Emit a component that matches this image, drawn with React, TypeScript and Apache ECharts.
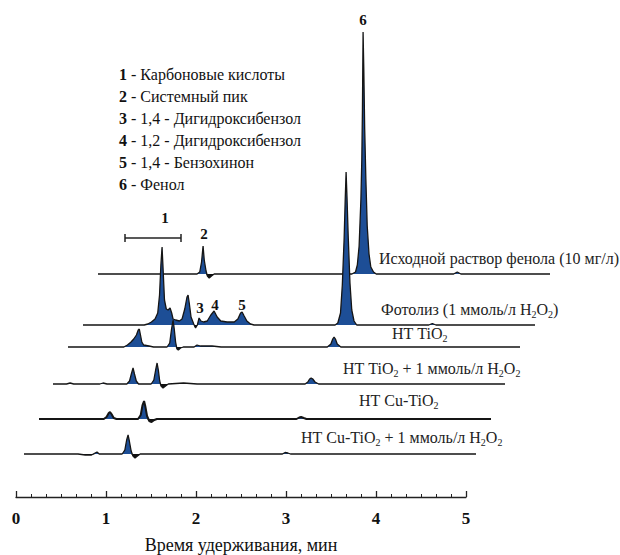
import React, { useEffect, useRef } from "react";
import * as echarts from "echarts";

// ---- data (time in min from each trace start, intensity in a.u.) ----
const traceNames = [
  "Исходной раствор фенола (10 мг/л)",
  "Фотолиз (1 ммоль/л H2O2)",
  "НТ TiO2",
  "НТ TiO2 + 1 ммоль/л H2O2",
  "НТ Cu-TiO2",
  "НТ Cu-TiO2 + 1 ммоль/л H2O2",
];

const traceInitial: number[][] = [
  [0, 0], [1.1, 0], [1.13, 2], [1.15, 12], [1.167, 28], [1.18, 14], [1.2, 3], [1.215, -2], [1.235, -4], [1.26, -2], [1.29, 0],
  [2.82, 0], [2.86, 2], [2.88, 9], [2.9, 28], [2.92, 75], [2.93, 115], [2.937, 165], [2.944, 242], [2.952, 205], [2.962, 145],
  [2.975, 95], [2.99, 48], [3.01, 20], [3.03, 7], [3.06, 2], [3.09, 0],
  [3.95, 0], [3.99, 2], [4.03, 0], [5.02, 0],
];
const tracePhotolysis: number[][] = [
  [0, 0], [0.68, 0], [0.72, 1], [0.76, 3], [0.8, 6], [0.83, 12], [0.85, 30], [0.865, 60], [0.878, 78], [0.89, 55], [0.905, 25],
  [0.925, 16], [0.945, 15], [0.967, 17], [0.985, 12], [1.0, 6], [1.03, 5], [1.07, 4], [1.1, 6], [1.13, 16], [1.155, 28],
  [1.167, 30], [1.18, 22], [1.2, 8], [1.23, 1], [1.25, -3], [1.27, 0], [1.289, 7], [1.31, 4], [1.34, 3], [1.38, 4], [1.42, 10],
  [1.456, 14], [1.49, 8], [1.53, 4], [1.6, 3], [1.68, 3], [1.72, 6], [1.75, 12], [1.767, 13], [1.79, 9], [1.82, 4], [1.86, 1],
  [1.9, 0], [2.8, 0], [2.83, 2], [2.86, 12], [2.88, 40], [2.9, 86], [2.912, 125], [2.922, 153], [2.932, 128], [2.945, 90],
  [2.965, 42], [2.985, 15], [3.01, 4], [3.04, 0], [3.84, 0], [3.88, 1.5], [3.92, 0], [5.02, 0],
];
const traceTiO2: number[][] = [
  [0, 0], [0.62, 0], [0.66, 2], [0.7, 5], [0.73, 8], [0.76, 12], [0.78, 17], [0.792, 18], [0.805, 12], [0.82, 5], [0.84, 2],
  [0.9, 1], [0.95, 0], [1.1, 0], [1.13, 4], [1.15, 18], [1.167, 27], [1.18, 18], [1.195, 5], [1.21, -2], [1.225, -3],
  [1.25, -1], [1.28, 0], [1.4, 0], [1.433, 2], [1.47, 1], [1.6, 1], [1.7, 0],
  [2.88, 0], [2.92, 3], [2.94, 8], [2.955, 10], [2.97, 8], [2.99, 3], [3.03, 0], [5.02, 0],
];
const traceTiO2H2O2: number[][] = [
  [0, 0], [0.15, 0], [0.19, 1], [0.23, 0], [0.52, 0], [0.556, 1], [0.6, 0], [0.82, 0], [0.85, 3], [0.87, 10], [0.889, 16],
  [0.905, 10], [0.925, 3], [0.95, 0], [1.09, 0], [1.12, 4], [1.14, 14], [1.156, 21], [1.17, 14], [1.185, 3], [1.2, -2],
  [1.222, -4], [1.25, -2], [1.28, 0], [1.45, 1], [1.6, 0], [2.8, 0], [2.83, 2], [2.85, 5], [2.867, 6], [2.885, 5],
  [2.91, 2], [2.95, 0], [5.02, 0],
];
const traceCuTiO2: number[][] = [
  [0, 0], [0.72, 0], [0.75, 2], [0.775, 6], [0.789, 7], [0.805, 5], [0.83, 1], [0.86, 0], [1.1, 0], [1.13, 4], [1.15, 14],
  [1.167, 18], [1.18, 13], [1.2, 3], [1.225, -2], [1.25, -3], [1.28, -1], [1.31, 0], [2.86, 0], [2.89, 1.5], [2.911, 2],
  [2.94, 1], [2.97, 0], [5.02, 0],
];
const traceCuTiO2H2O2: number[][] = [
  [0, 0], [0.6, 0], [0.68, -1], [0.75, -1], [0.79, 1], [0.811, 2], [0.835, 0], [1.09, 0], [1.12, 4], [1.14, 14],
  [1.156, 19], [1.17, 13], [1.19, 3], [1.21, -2], [1.233, -4], [1.26, -2], [1.29, 0], [2.87, 0], [2.9, 1.5], [2.93, 1],
  [2.96, 0], [5.02, 0],
];
const traces = [traceInitial, tracePhotolysis, traceTiO2, traceTiO2H2O2, traceCuTiO2, traceCuTiO2H2O2];

const legendNums = ["1", "2", "3", "4", "5", "6"];
const legendTexts = [
  "Карбоновые кислоты",
  "Системный пик",
  "1,4 - Дигидроксибензол",
  "1,2 - Дигидроксибензол",
  "1,4 - Бензохинон",
  "Фенол",
];
const axisTicks = [0, 1, 2, 3, 4, 5];
const axisTitle = "Время удерживания, мин";

// ---- layout (pixels) ----
const traceLeft = [98, 83, 68, 53, 39, 24];
const traceBase = [274, 325, 347, 384, 419, 454];
const traceLineWidth = [1.3, 1.3, 1.3, 1.3, 2, 1.3];
const traceLabelPos = [
  [379, 258], [381, 309], [392, 333], [343, 368], [359, 400], [301, 437],
];
const traceLabelRich = [
  "Исходной раствор фенола (10 мг/л)",
  "Фотолиз (1 ммоль/л H{s|2}O{s|2})",
  "НТ TiO{s|2}",
  "НТ TiO{s|2} + 1 ммоль/л H{s|2}O{s|2}",
  "НТ Cu-TiO{s|2}",
  "НТ Cu-TiO{s|2} + 1 ммоль/л H{s|2}O{s|2}",
];
const FONT = "'Liberation Serif', 'DejaVu Serif', serif";
const FILL = "#1d4e96";

export default function App() {
  const ref = useRef<HTMLDivElement>(null);
  useEffect(() => {
    if (!ref.current) return;
    const chart = echarts.init(ref.current, undefined, { renderer: "svg" });
    const grids: any[] = [];
    const xAxes: any[] = [];
    const yAxes: any[] = [];
    const series: any[] = [];
    traces.forEach((tr, i) => {
      grids.push({ left: traceLeft[i], width: 452, top: traceBase[i] - 260, height: 270 });
      xAxes.push({ gridIndex: i, type: "value", min: 0, max: 5.02, show: false });
      yAxes.push({ gridIndex: i, type: "value", min: -10, max: 260, show: false });
      series.push({
        type: "line",
        name: traceNames[i],
        xAxisIndex: i,
        yAxisIndex: i,
        data: tr,
        showSymbol: false,
        silent: true,
        lineStyle: { color: "#151515", width: traceLineWidth[i] },
        areaStyle: { color: FILL, opacity: 1 },
        z: 2 + i,
      });
      series.push({
        type: "line",
        xAxisIndex: i,
        yAxisIndex: i,
        data: tr.map((p) => [p[0], Math.min(p[1], 0)]),
        showSymbol: false,
        silent: true,
        lineStyle: { width: 0 },
        areaStyle: { color: "#111", opacity: 1 },
        z: 2 + i,
      });
    });
    // visible time axis
    grids.push({ left: 16, width: 450, top: 440, height: 57 });
    xAxes.push({
      gridIndex: 6,
      type: "value",
      min: 0,
      max: 5,
      interval: 1,
      axisLine: { lineStyle: { color: "#222", width: 1.3 } },
      axisTick: { inside: true, length: 6, lineStyle: { color: "#222", width: 1.3 } },
      minorTick: { show: true, splitNumber: 6, length: 3, lineStyle: { color: "#222", width: 1 } },
      splitLine: { show: false },
      axisLabel: {
        margin: 13,
        fontFamily: FONT,
        fontWeight: "bold",
        fontSize: 17,
        color: "#111",
        formatter: (v: number) => (axisTicks.includes(v) ? String(v) : ""),
      },
      name: axisTitle,
      nameLocation: "middle",
      nameGap: 39,
      nameTextStyle: { fontFamily: FONT, fontSize: 18, color: "#111" },
    });
    yAxes.push({ gridIndex: 6, type: "value", min: 0, max: 1, show: false });
    series.push({ type: "line", xAxisIndex: 6, yAxisIndex: 6, data: [] });

    const graphic: any[] = [];
    legendTexts.forEach((t, i) => {
      graphic.push({
        type: "text",
        x: 119,
        y: 74 + i * 22,
        style: {
          text: `{b|${legendNums[i]}} - ${t}`,
          fontFamily: FONT,
          fontSize: 16,
          fill: "#111",
          textVerticalAlign: "middle",
          rich: { b: { fontFamily: FONT, fontSize: 16, fontWeight: "bold", fill: "#111" } },
        },
      });
    });
    traceLabelRich.forEach((t, i) => {
      graphic.push({
        type: "text",
        x: traceLabelPos[i][0],
        y: traceLabelPos[i][1],
        style: {
          text: t,
          fontFamily: FONT,
          fontSize: 16,
          fill: "#222",
          textVerticalAlign: "middle",
          rich: { s: { fontFamily: FONT, fontSize: 10, fill: "#222", padding: [10, 0, 0, 0] } },
        },
      });
    });
    const peakLabels: [string, number, number][] = [
      ["1", 165, 218], ["2", 204, 234], ["3", 200, 308], ["4", 215, 305], ["5", 242, 305], ["6", 363, 20],
    ];
    peakLabels.forEach(([t, x, y]) => {
      graphic.push({
        type: "text",
        x,
        y,
        style: {
          text: t,
          fontFamily: FONT,
          fontSize: 15,
          fontWeight: "bold",
          fill: "#111",
          textAlign: "center",
          textVerticalAlign: "middle",
        },
      });
    });
    graphic.push({ type: "line", shape: { x1: 125, y1: 238, x2: 181, y2: 238 }, style: { stroke: "#222", lineWidth: 1.5 } });
    graphic.push({ type: "line", shape: { x1: 125, y1: 234, x2: 125, y2: 242 }, style: { stroke: "#222", lineWidth: 1.5 } });
    graphic.push({ type: "line", shape: { x1: 181, y1: 234, x2: 181, y2: 242 }, style: { stroke: "#222", lineWidth: 1.5 } });

    chart.setOption({
      animation: false,
      backgroundColor: "#fff",
      grid: grids,
      xAxis: xAxes,
      yAxis: yAxes,
      series,
      graphic,
    });
    return () => chart.dispose();
  }, []);
  return (
    <div
      ref={ref}
      style={{ position: "absolute", left: 0, top: 0, width: 620, height: 555 }}
    />
  );
}
